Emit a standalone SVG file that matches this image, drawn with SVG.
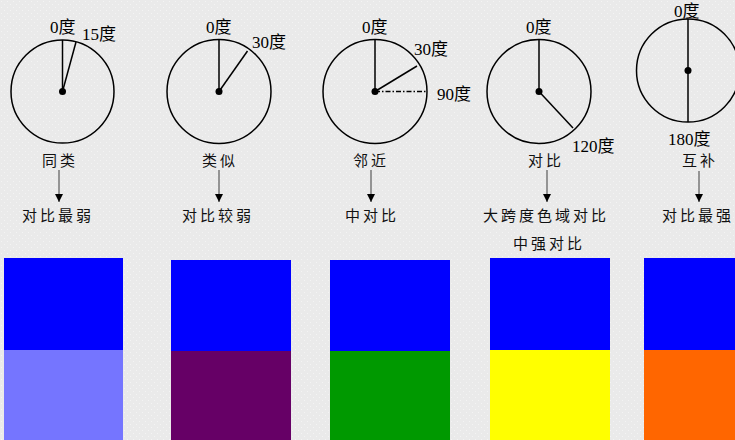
<svg xmlns="http://www.w3.org/2000/svg" width="735" height="440" viewBox="0 0 735 440">
<defs>
<pattern id="dots" width="6" height="6" patternUnits="userSpaceOnUse">
<rect width="6" height="6" fill="#EAEAEA"/>
<rect x="1" y="1" width="1" height="1" fill="#F4F4F4"/>
<rect x="4" y="4" width="1" height="1" fill="#F4F4F4"/>
</pattern>
<marker id="ah" markerWidth="10" markerHeight="10" refX="8" refY="4" orient="auto" markerUnits="userSpaceOnUse">
<path d="M0,0 L8,4 L0,8 Z" fill="#000"/>
</marker>
</defs>
<style>
.c{fill:none;stroke:#000;stroke-width:1.5}
.l{stroke:#000;stroke-width:1.5}
.d{fill:#000}
.deg{font-family:"Liberation Serif","Noto Sans CJK SC",serif;font-size:17px;fill:#000}
.lab{font-family:"Noto Sans CJK SC","Liberation Sans",sans-serif;font-size:15px;fill:#111;letter-spacing:3px}
.ar{stroke:#777;stroke-width:1.5;marker-end:url(#ah)}
</style>
<rect width="735" height="440" fill="url(#dots)"/>

<g id="wheel1">
<circle class="c" cx="62.5" cy="91.5" r="51.5"/>
<line class="l" x1="62.5" y1="91.5" x2="62.5" y2="40"/>
<line class="l" x1="62.5" y1="91.5" x2="76" y2="42"/>
<circle class="d" cx="62.5" cy="91.5" r="3.5"/>
<text class="deg" x="50" y="33">0度</text>
<text class="deg" x="82" y="40">15度</text>
<text class="lab" x="42" y="166">同类</text>
<text class="lab" x="22" y="221">对比最弱</text>
</g>

<g id="wheel2">
<circle class="c" cx="219" cy="91.5" r="52"/>
<line class="l" x1="219" y1="91.5" x2="219" y2="39.5"/>
<line class="l" x1="219" y1="91.5" x2="247.5" y2="51"/>
<circle class="d" cx="219" cy="91.5" r="3.5"/>
<text class="deg" x="206" y="33">0度</text>
<text class="deg" x="252" y="48">30度</text>
<text class="lab" x="202" y="166">类似</text>
<text class="lab" x="182" y="221">对比较弱</text>
</g>

<g id="wheel3">
<circle class="c" cx="375" cy="91.5" r="52"/>
<line class="l" x1="375" y1="91.5" x2="375" y2="39.5"/>
<line class="l" x1="375" y1="91.5" x2="417" y2="66"/>
<line class="l" x1="375" y1="91.5" x2="427" y2="91.5" stroke-dasharray="5,2,1.5,2" stroke-width="1.2"/>
<circle class="d" cx="375" cy="91.5" r="3.5"/>
<text class="deg" x="362" y="33">0度</text>
<text class="deg" x="414" y="55">30度</text>
<text class="deg" x="437" y="100">90度</text>
<text class="lab" x="353" y="166">邻近</text>
<text class="lab" x="345" y="221">中对比</text>
</g>

<g id="wheel4">
<circle class="c" cx="539" cy="91.5" r="52"/>
<line class="l" x1="539" y1="91.5" x2="539" y2="39.5"/>
<line class="l" x1="539" y1="91.5" x2="573" y2="128"/>
<circle class="d" cx="539" cy="91.5" r="3.5"/>
<text class="deg" x="526" y="33">0度</text>
<text class="deg" x="572" y="152">120度</text>
<text class="lab" x="528" y="166">对比</text>
<text class="lab" x="483" y="221">大跨度色域对比</text>
<text class="lab" x="513" y="249">中强对比</text>
</g>

<g id="wheel5">
<circle class="c" cx="688" cy="70.5" r="51.5"/>
<line class="l" x1="688" y1="19" x2="688" y2="122"/>
<circle class="d" cx="688" cy="70.5" r="3.5"/>
<text class="deg" x="674" y="17">0度</text>
<text class="deg" x="668" y="145">180度</text>
<text class="lab" x="682" y="166">互补</text>
<text class="lab" x="662" y="221">对比最强</text>
</g>

<g id="connectors">
<line class="ar" x1="59" y1="170" x2="59" y2="202"/>
<line class="ar" x1="219" y1="170" x2="219" y2="202"/>
<line class="ar" x1="371" y1="170" x2="371" y2="202"/>
<line class="ar" x1="547" y1="170" x2="547" y2="202"/>
<line class="ar" x1="699" y1="171" x2="699" y2="202"/>
</g>

<g id="swatch1">
<rect x="4" y="258" width="119" height="92" fill="#0000FF"/>
<rect x="4" y="350" width="119" height="90" fill="#7575FF"/>
</g>
<g id="swatch2">
<rect x="171" y="260" width="120" height="91" fill="#0000FF"/>
<rect x="171" y="351" width="120" height="89" fill="#660066"/>
</g>
<g id="swatch3">
<rect x="330" y="260" width="120" height="91" fill="#0000FF"/>
<rect x="330" y="351" width="120" height="89" fill="#009900"/>
</g>
<g id="swatch4">
<rect x="490" y="258" width="120" height="92" fill="#0000FF"/>
<rect x="490" y="350" width="120" height="90" fill="#FFFF00"/>
</g>
<g id="swatch5">
<rect x="644" y="258" width="91" height="92" fill="#0000FF"/>
<rect x="644" y="350" width="91" height="90" fill="#FF6600"/>
</g>
</svg>
